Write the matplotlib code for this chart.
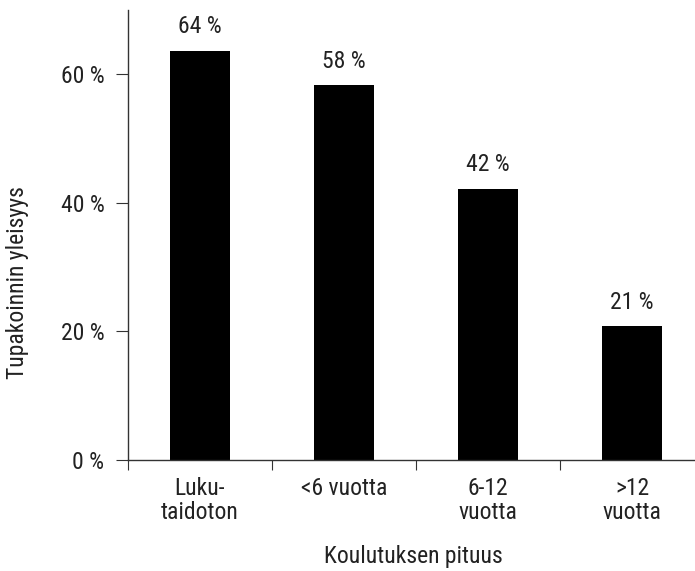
import matplotlib
matplotlib.use("Agg")
import matplotlib.pyplot as plt

categories = ["Luku-\ntaidoton", "<6 vuotta", "6-12\nvuotta", ">12\nvuotta"]
values = [63.7, 58.3, 42.2, 20.8]
labels = ["64 %", "58 %", "42 %", "21 %"]
yticks = [0, 20, 40, 60]
ytick_labels = ["0 %", "20 %", "40 %", "60 %"]

plt.rcParams["font.family"] = ["Roboto Condensed", "Liberation Sans", "DejaVu Sans"]
plt.rcParams["font.size"] = 17

fig = plt.figure(figsize=(6.95, 5.71), dpi=100)
W, H = 695, 571
ax = fig.add_axes([128 / W, (H - 460) / H, 576 / W, 450 / H])

x = list(range(len(categories)))
ax.bar(x, values, width=0.415, color="black")
for xi, v, lab in zip(x, values, labels):
    ax.annotate(lab, (xi, v), xytext=(0, 9), textcoords="offset points",
                ha="center", va="bottom", color="#222222")

ax.set_xlim(-0.5, 3.5)
ax.set_ylim(0, 70)
ax.set_yticks(yticks)
ax.set_yticklabels(ytick_labels)
ax.set_xticks([-0.5, 0.5, 1.5, 2.5])
ax.set_xticklabels([])
ax.set_xticks(x, minor=True)
ax.set_xticklabels(categories, minor=True, linespacing=1.05)
ax.tick_params(axis="x", which="minor", length=0, pad=12, colors="#222222")
ax.tick_params(axis="x", which="major", length=7, color="#333333")
ax.tick_params(axis="y", length=9, pad=8, color="#333333", labelcolor="#222222")

for s in ["top", "right"]:
    ax.spines[s].set_visible(False)
for s in ["left", "bottom"]:
    ax.spines[s].set_color("#333333")
    ax.spines[s].set_linewidth(1.0)

fig.text(18 / W, 1 - 283 / H, "Tupakoinnin yleisyys", rotation=90,
         ha="center", va="center", color="#222222")
fig.text(413 / W, 1 - 557 / H, "Koulutuksen pituus", ha="center", va="center",
         color="#222222")

fig.savefig("out.png", dpi=100)
